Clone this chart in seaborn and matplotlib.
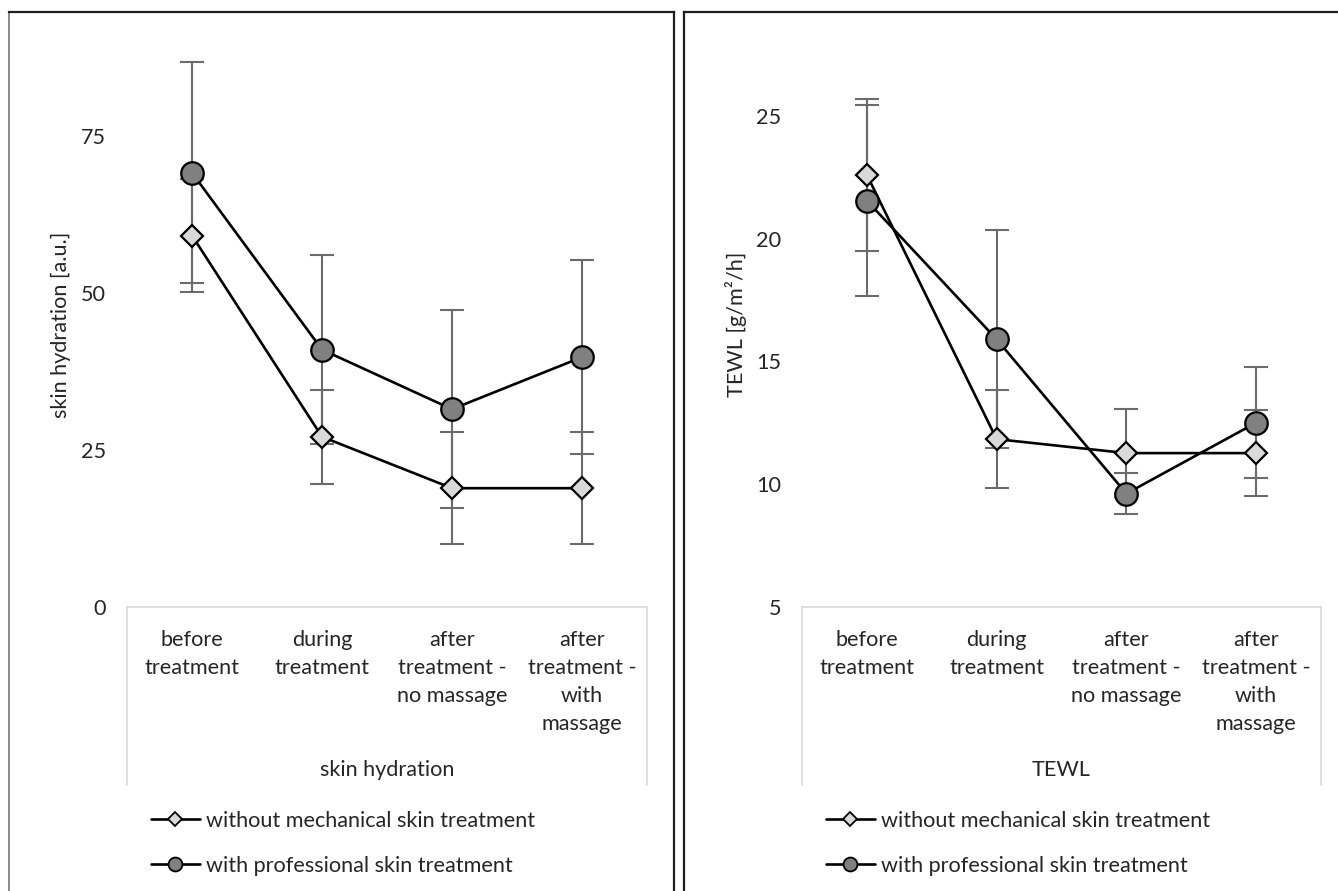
import numpy as np
import pandas as pd
import matplotlib
matplotlib.use("Agg")
import matplotlib.pyplot as plt
from matplotlib.lines import Line2D
import seaborn as sns

# ---- data -------------------------------------------------------------
stages = ["before\ntreatment", "during\ntreatment",
          "after\ntreatment -\nno massage", "after\ntreatment -\nwith\nmassage"]

group_names = ["without mechanical skin treatment", "with professional skin treatment"]

hydration_without = [59.2, 27.1, 18.9, 18.9]
hydration_without_sd = [9.0, 7.5, 8.9, 8.9]
hydration_with = [69.2, 41.0, 31.5, 39.8]
hydration_with_sd = [17.6, 15.1, 15.8, 15.5]

tewl_without = [22.6, 11.83, 11.26, 11.26]
tewl_without_sd = [3.1, 2.0, 1.8, 1.75]
tewl_with = [21.55, 15.9, 9.61, 12.5]
tewl_with_sd = [3.9, 4.45, 0.83, 2.25]

hydration_ticks = [0, 25, 50, 75]
tewl_ticks = [5, 10, 15, 20, 25]

# ---- style ------------------------------------------------------------
sns.set_theme(style="white")
plt.rcParams["font.family"] = ["Lato", "DejaVu Sans"]
FS = 15.6
TXT = "#262626"

W, H = 1338, 891
fig = plt.figure(figsize=(W / 100, H / 100), dpi=100)


def fx(px):
    return px / W


def fy(py):
    return 1 - py / H


# chart-area frames
frame_kw = dict(transform=fig.transFigure, color="#1e1e1e", lw=1.6,
                solid_capstyle="projecting")
fig.add_artist(Line2D([fx(9), fx(9)], [fy(12.3), fy(H + 5)],
                      transform=fig.transFigure, color="#8a8a8a", lw=1.4))
fig.add_artist(Line2D([fx(9), fx(674.3)], [fy(12.3), fy(12.3)], **frame_kw))
fig.add_artist(Line2D([fx(674.3), fx(674.3)], [fy(12.3), fy(H + 5)], **frame_kw))
fig.add_artist(Line2D([fx(683.7), fx(W + 5)], [fy(12.3), fy(12.3)], **frame_kw))
fig.add_artist(Line2D([fx(683.7), fx(683.7)], [fy(12.3), fy(H + 5)], **frame_kw))

PLOT_TOP, PLOT_BOT = 42.4, 606.7
ax_h = PLOT_BOT - PLOT_TOP


def make_panel(left_px, width_px, ylim, yticks, ylabel, xlabel,
               s_without, e_without, s_with, e_with):
    ax = fig.add_axes([fx(left_px), fy(PLOT_BOT), width_px / W, ax_h / H])
    ax.set_facecolor("none")

    series = [
        (s_without, e_without, "D", "#d9d9d9", 11.4, group_names[0]),
        (s_with, e_with, "o", "#808080", 16.2, group_names[1]),
    ]
    # error bars sit underneath the lines and markers
    for vals, errs, *_ in series:
        ax.errorbar(stages, vals, yerr=errs, fmt="none", ecolor="#6b6b6b",
                    elinewidth=1.5, capsize=8.5, capthick=1.5, zorder=1)
    for vals, errs, mk, fc, ms, name in series:
        df = pd.DataFrame({"stage": stages, "value": vals})
        sns.lineplot(data=df, x="stage", y="value", sort=False, ax=ax,
                     color="black", lw=1.9, marker=mk, markersize=ms,
                     markerfacecolor=fc, markeredgecolor="black",
                     markeredgewidth=1.6, zorder=3, label=None)

    ax.set_xlim(-0.5, 3.5)
    ax.set_ylim(*ylim)
    ax.set_yticks(yticks)
    ax.set_yticklabels([str(t) for t in yticks])
    ax.tick_params(axis="both", length=0, labelsize=FS, labelcolor=TXT)
    ax.tick_params(axis="y", pad=15)
    ax.tick_params(axis="x", pad=17)
    for lab in ax.get_xticklabels():
        lab.set_linespacing(1.50)

    for side in ("left", "top", "right"):
        ax.spines[side].set_visible(False)
    ax.spines["bottom"].set_color("#d9d9d9")
    ax.spines["bottom"].set_linewidth(1.2)

    # category-axis box sides
    box_bot = -(785 - PLOT_BOT) / ax_h
    for xa in (0, 1):
        ax.plot([xa, xa], [0, box_bot], transform=ax.transAxes, clip_on=False,
                color="#d9d9d9", lw=1.2)

    ax.set_ylabel(ylabel, fontsize=FS, color=TXT)
    ax.yaxis.set_label_coords(-66 / width_px, 0.5)
    ax.yaxis.label.set_va("center")
    ax.set_xlabel(xlabel, fontsize=FS, color=TXT)
    ax.xaxis.set_label_coords(0.5, -(770 - PLOT_BOT) / ax_h)
    ax.xaxis.label.set_va("center")

    handles = [
        Line2D([], [], color="black", lw=1.9, marker="D", markersize=7.5,
               markerfacecolor="#d9d9d9", markeredgecolor="black", markeredgewidth=1.3),
        Line2D([], [], color="black", lw=1.9, marker="o", markersize=10,
               markerfacecolor="#808080", markeredgecolor="black", markeredgewidth=1.3),
    ]
    leg = ax.legend(handles, group_names, loc="upper left",
                    bbox_to_anchor=(24 / width_px, -(811 - PLOT_BOT) / ax_h),
                    frameon=False, fontsize=FS, handlelength=2.25,
                    handletextpad=0.3, labelspacing=1.15, borderpad=0,
                    borderaxespad=0)
    for t in leg.get_texts():
        t.set_color(TXT)
    return ax


make_panel(127, 520, (0, 90), hydration_ticks, "skin hydration [a.u.]",
           "skin hydration", hydration_without, hydration_without_sd,
           hydration_with, hydration_with_sd)
make_panel(802, 519, (5, 28), tewl_ticks, "TEWL [g/m\u00b2/h]", "TEWL",
           tewl_without, tewl_without_sd, tewl_with, tewl_with_sd)

fig.savefig("out.png", dpi=100, facecolor="white")
